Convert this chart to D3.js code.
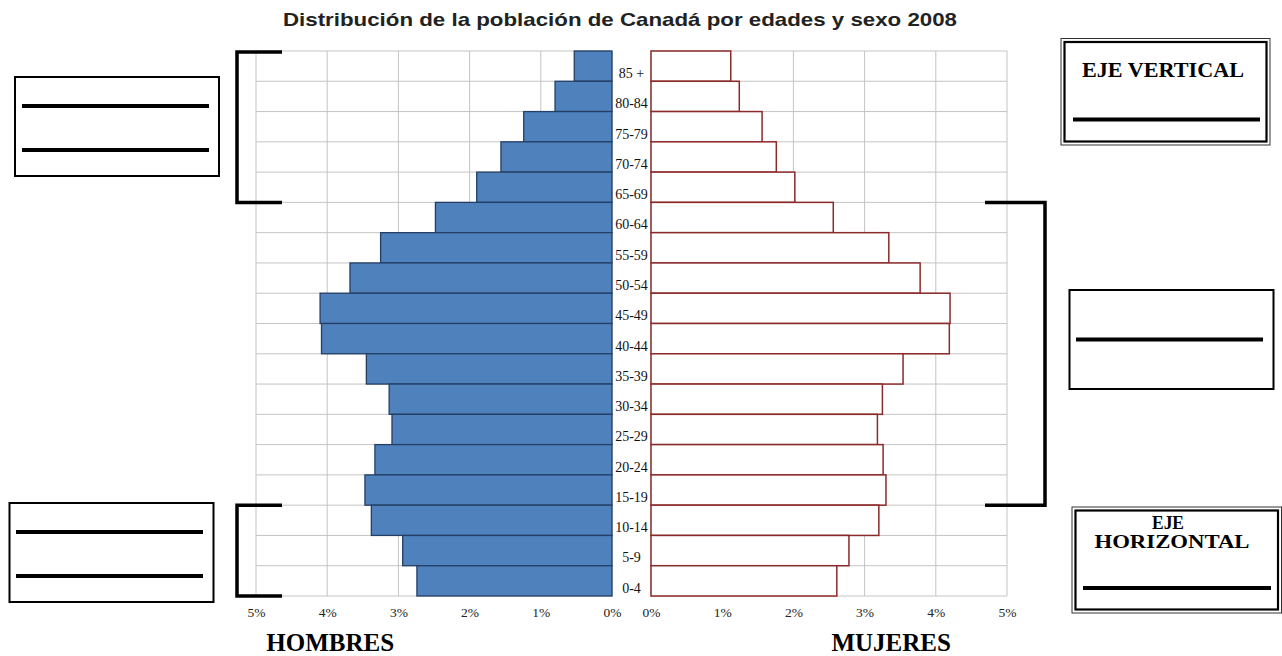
<!DOCTYPE html>
<html>
<head>
<meta charset="utf-8">
<script src="https://cdn.jsdelivr.net/npm/d3@7"></script>
<style>
  html, body { margin: 0; padding: 0; background: #fff; }
  svg { display: block; }
</style>
</head>
<body>
<svg id="chart" width="1282" height="656"></svg>
<script>
// ---- Data ----
const categories = ["85 +", "80-84", "75-79", "70-74", "65-69", "60-64", "55-59", "50-54", "45-49",
                    "40-44", "35-39", "30-34", "25-29", "20-24", "15-19", "10-14", "5-9", "0-4"];
const hombres = [0.53, 0.80, 1.24, 1.56, 1.90, 2.48, 3.25, 3.68, 4.10,
                 4.08, 3.45, 3.13, 3.09, 3.33, 3.47, 3.38, 2.94, 2.74];
const mujeres = [1.12, 1.24, 1.56, 1.76, 2.02, 2.56, 3.34, 3.78, 4.20,
                 4.19, 3.54, 3.25, 3.18, 3.26, 3.30, 3.20, 2.78, 2.61];
const ticks = [0, 1, 2, 3, 4, 5];
const title = "Distribución de la población de Canadá por edades y sexo 2008";

// ---- Layout ----
const svg = d3.select("#chart");
const plotTop = 51, plotBottom = 596;
const xL = d3.scaleLinear().domain([0, 5]).range([612, 256]);
const xR = d3.scaleLinear().domain([0, 5]).range([651, 1007]);
const y = d3.scaleBand().domain(categories).range([plotTop, plotBottom]).padding(0);
const bw = y.bandwidth();

const gridColor = "#c4c4c4";
const serif = "Liberation Serif, Times New Roman, serif";

function drawGrid(x) {
  const g = svg.append("g");
  g.selectAll("line.v").data(ticks).join("line")
    .attr("x1", d => x(d)).attr("x2", d => x(d))
    .attr("y1", plotTop).attr("y2", plotBottom)
    .attr("stroke", gridColor).attr("stroke-width", 1);
  const ys = categories.map(c => y(c)).concat([plotBottom]);
  g.selectAll("line.h").data(ys).join("line")
    .attr("x1", Math.min(x(0), x(5))).attr("x2", Math.max(x(0), x(5)))
    .attr("y1", d => d).attr("y2", d => d)
    .attr("stroke", gridColor).attr("stroke-width", 1);
}
drawGrid(xL);
drawGrid(xR);

// Male bars
svg.append("g").selectAll("rect").data(categories).join("rect")
  .attr("x", (c, i) => xL(hombres[i]))
  .attr("y", c => y(c))
  .attr("width", (c, i) => xL(0) - xL(hombres[i]))
  .attr("height", bw)
  .attr("fill", "#4f81bd")
  .attr("stroke", "#243f66")
  .attr("stroke-width", 1.3);

// Female bars
svg.append("g").selectAll("rect").data(categories).join("rect")
  .attr("x", xR(0))
  .attr("y", c => y(c))
  .attr("width", (c, i) => xR(mujeres[i]) - xR(0))
  .attr("height", bw)
  .attr("fill", "#ffffff")
  .attr("stroke", "#8b2a2a")
  .attr("stroke-width", 1.5);

// Category labels
svg.append("g").selectAll("text").data(categories).join("text")
  .attr("x", (xL(0) + xR(0)) / 2)
  .attr("y", c => y(c) + bw / 2 + 7)
  .attr("dy", "0.35em")
  .attr("text-anchor", "middle")
  .attr("font-family", serif)
  .attr("font-size", 14)
  .attr("fill", "#111")
  .text(c => c);

// Axes
function drawAxis(x) {
  const ax = d3.axisBottom(x).tickValues(ticks).tickFormat(d => d + "%").tickSize(0).tickPadding(11);
  const g = svg.append("g").attr("transform", `translate(0,${plotBottom})`).call(ax);
  g.select(".domain").remove();
  g.selectAll("text")
    .attr("font-family", serif)
    .attr("font-size", 13.5)
    .attr("fill", "#222");
}
drawAxis(xL);
drawAxis(xR);

// Side labels
svg.append("text").attr("x", (xL(5) + xL(3)) / 2 + 3).attr("y", 651)
  .attr("text-anchor", "middle")
  .attr("font-family", serif)
  .attr("font-weight", "bold").attr("font-size", 25)
  .text("HOMBRES");
svg.append("text").attr("x", (xR(3) + xR(4)) / 2 - 9).attr("y", 651)
  .attr("text-anchor", "middle")
  .attr("font-family", serif)
  .attr("font-weight", "bold").attr("font-size", 25)
  .text("MUJERES");

// Title
svg.append("text").attr("x", 620).attr("y", 26)
  .attr("text-anchor", "middle")
  .attr("font-family", "Liberation Sans, Arial, sans-serif")
  .attr("font-weight", "bold").attr("font-size", 18.5)
  .attr("fill", "#222")
  .attr("textLength", 674).attr("lengthAdjust", "spacingAndGlyphs")
  .text(title);

// ---- Annotation brackets ----
const bracket = svg.append("g").attr("fill", "none").attr("stroke", "#000").attr("stroke-width", 3.5);
function leftBracket(y1, y2) {
  bracket.append("path").attr("d", `M282,${y1} H237 V${y2} H282`);
}
function rightBracket(y1, y2) {
  bracket.append("path").attr("d", `M985,${y1} H1045 V${y2} H985`);
}
leftBracket(y("85 +") + 1, y("65-69") + bw);
leftBracket(y("10-14"), y("0-4") + bw);
rightBracket(y("60-64"), y("15-19") + bw);

// ---- Boxes ----
const boxes = svg.append("g");
function box(x, yy, w, h, lines) {
  boxes.append("rect").attr("x", x).attr("y", yy).attr("width", w).attr("height", h)
    .attr("fill", "#fff").attr("stroke", "#000").attr("stroke-width", 2);
  lines.forEach(l => boxes.append("line")
    .attr("x1", l[0]).attr("x2", l[1]).attr("y1", l[2]).attr("y2", l[2])
    .attr("stroke", "#000").attr("stroke-width", 4));
}
box(15, 77, 204, 99, [[22, 209, 106], [22, 209, 150]]);
box(9.5, 503, 204, 99, [[16, 203, 532], [16, 203, 576]]);
box(1069.5, 290, 204, 99, [[1076, 1263, 339.5]]);

function doubleBox(x, yy, w, h, lineY, lx1, lx2) {
  boxes.append("rect").attr("x", x).attr("y", yy).attr("width", w).attr("height", h)
    .attr("fill", "#fff").attr("stroke", "#333").attr("stroke-width", 1);
  boxes.append("rect").attr("x", x + 3.5).attr("y", yy + 3.5).attr("width", w - 7).attr("height", h - 7)
    .attr("fill", "none").attr("stroke", "#000").attr("stroke-width", 2.2);
  boxes.append("line").attr("x1", lx1).attr("x2", lx2).attr("y1", lineY).attr("y2", lineY)
    .attr("stroke", "#000").attr("stroke-width", 4);
}
doubleBox(1061, 38.5, 209, 106.5, 119.5, 1073, 1260);
boxes.append("text").attr("x", 1163).attr("y", 77)
  .attr("text-anchor", "middle")
  .attr("font-family", serif)
  .attr("font-weight", "bold").attr("font-size", 20)
  .attr("textLength", 162).attr("lengthAdjust", "spacingAndGlyphs")
  .text("EJE VERTICAL");

doubleBox(1072, 507, 209.5, 106, 588, 1083, 1271);
boxes.append("text").attr("x", 1168).attr("y", 529)
  .attr("text-anchor", "middle")
  .attr("font-family", serif)
  .attr("font-weight", "bold").attr("font-size", 18.5)
  .attr("textLength", 32).attr("lengthAdjust", "spacingAndGlyphs")
  .text("EJE");
boxes.append("text").attr("x", 1172).attr("y", 548)
  .attr("text-anchor", "middle")
  .attr("font-family", serif)
  .attr("font-weight", "bold").attr("font-size", 18.5)
  .attr("textLength", 155).attr("lengthAdjust", "spacingAndGlyphs")
  .text("HORIZONTAL");
</script>
</body>
</html>
